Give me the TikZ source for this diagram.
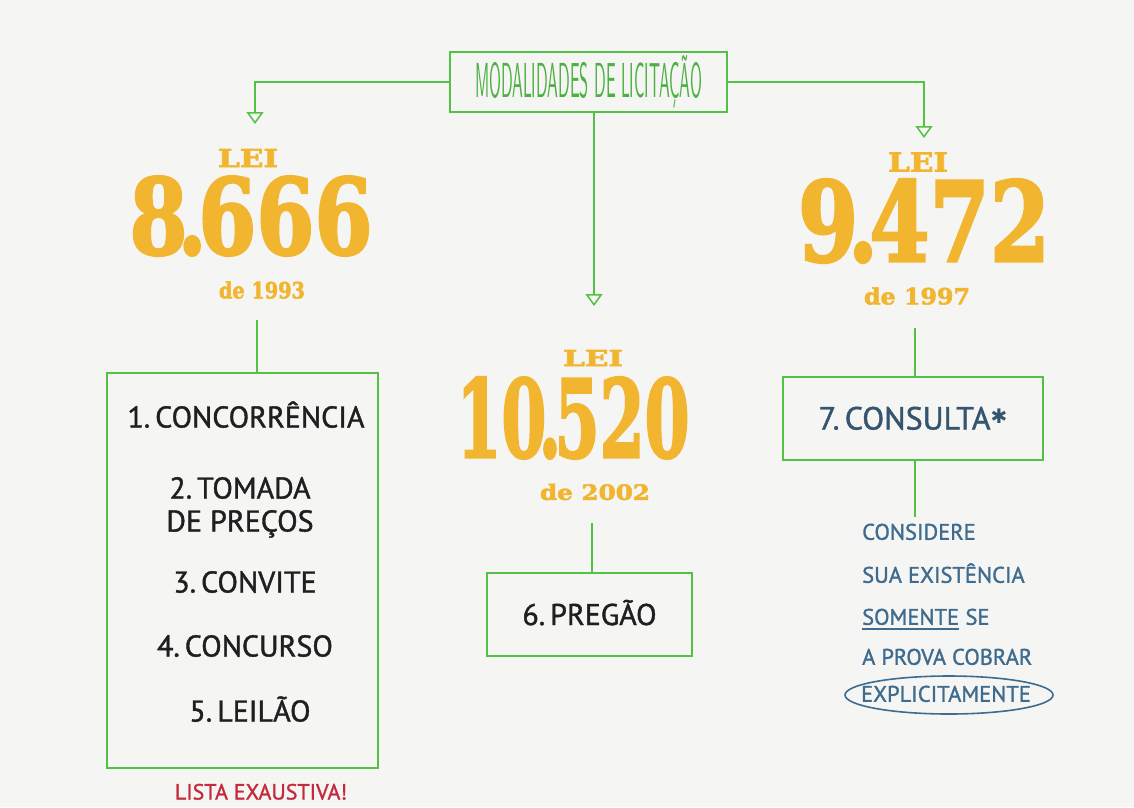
\documentclass[tikz,border=0pt]{standalone}
\usepackage{fontspec}
\setmainfont{PT Sans}
\newfontfamily\hand{PT Sans}[FakeBold=1.3]
\newfontfamily\slab{DejaVu Serif Bold}[FakeBold=2.5]
\newfontfamily\symb{DejaVu Sans}
\usetikzlibrary{arrows.meta,shapes.geometric}
\definecolor{bg}{HTML}{F5F5F4}
\definecolor{grn}{HTML}{55C046}
\definecolor{titlegrn}{HTML}{4DB043}
\definecolor{goldc}{HTML}{F2B530}
\definecolor{ink}{HTML}{1F1F1F}
\definecolor{blu}{HTML}{34546F}
\definecolor{notec}{HTML}{3E6B8E}
\definecolor{redt}{HTML}{C42A3C}
\newcommand\fitbox[3]{\resizebox{#1pt}{#2pt}{\slab #3}}
\newcommand\pt{\kern-0.12em.\kern-0.1em}
\begin{document}
\begin{tikzpicture}[x=1pt,y=-1pt,
  gbox/.style={draw=grn,line width=1.8pt,inner sep=0pt},
  link/.style={draw=grn,line width=1.8pt},
  arr/.style={link,-{Triangle[open,fill=bg,length=12pt,width=17pt,line width=1.5pt]}},
  item/.style={text=ink,font=\hand\fontsize{30}{36}\selectfont,inner sep=0pt,text height=21pt,text depth=0pt},
  numtext/.style={text=goldc,inner sep=0pt},
  notetext/.style={text=notec,font=\hand\fontsize{22.5}{26}\selectfont,inner sep=0pt,text height=15.5pt,text depth=0pt,anchor=west}
]
\fill[bg] (0,0) rectangle (1134,807);
\useasboundingbox (0,0) rectangle (1134,807);

% title
\node[gbox,minimum width=277pt,minimum height=60pt,text=titlegrn] (title) at (588.5,82)
  {\resizebox{227pt}{42pt}{\sffamily MODALIDADES DE LICITAÇÃO}};

\coordinate (tl) at (255,124);
\coordinate (tr) at (924,138);
\coordinate (tc) at (594,306);
\draw[arr] (title.west) -| (tl);
\draw[arr] (title.east) -| (tr);
\draw[arr] (title.south -| tc) -- (tc);

% left law
\node[numtext] (lei1) at (248,158) {\fitbox{60}{18}{LEI}};
\node[numtext] (num1) at (251,216) {\fitbox{243}{78}{8\pt666}};
\node[numtext] (yr1) at (262,290) {\fitbox{86}{17}{de 1993}};

\node[gbox,minimum width=271pt,minimum height=395pt] (box1) at (242.5,570.5) {};
\coordinate (c1) at (257,320);
\draw[link] (c1) -- (c1 |- box1.north);

\node[item] (i1) at (246,417) {1.\,CONCORRÊNCIA};
\node[item] (i2) at (240,488) {2.\,TOMADA};
\node[item] (i2b) at (240,521) {DE PREÇOS};
\node[item] (i3) at (245,582) {3.\,CONVITE};
\node[item] (i4) at (245,646) {4.\,CONCURSO};
\node[item] (i5) at (250,711) {5.\,LEILÃO};
\node[item,text=redt,font=\hand\fontsize{22}{26}\selectfont,text height=15pt] (lista) at (261,792) {LISTA EXAUSTIVA!};

% centre law
\node[numtext] (lei2) at (593,358) {\fitbox{60}{16}{LEI}};
\node[numtext] (num2) at (573,418) {\fitbox{233}{80}{10\pt520}};
\node[numtext] (yr2) at (595,492) {\fitbox{110}{16}{de 2002}};

\node[gbox,minimum width=205pt,minimum height=83pt,item] (box2) at (589.5,614.5) {6.\,PREGÃO};
\coordinate (c2) at (592,523);
\draw[link] (c2) -- (c2 |- box2.north);

% right law
\node[numtext] (lei3) at (918,162) {\fitbox{60}{19}{LEI}};
\node[numtext] (num3) at (924,221) {\fitbox{252}{82}{9\pt472}};
\node[numtext] (yr3) at (917,296) {\fitbox{106}{17}{de 1997}};

\node[gbox,minimum width=260pt,minimum height=83pt,item,text=blu,font=\hand\fontsize{32}{38}\selectfont,text height=22pt] (box3) at (913,418.5) {7.\,CONSULTA\raisebox{6pt}{\symb\fontsize{20}{20}\selectfont ✱}};
\coordinate (c3) at (915,328);
\draw[link] (c3) -- (c3 |- box3.north);
\coordinate (c4) at (915,517);
\draw[link] (box3.south -| c4) -- (c4);

% note
\node[notetext] (n1) at (862,532) {CONSIDERE};
\node[notetext] (n2) at (862,575) {SUA EXISTÊNCIA};
\node[notetext] (n3a) at (862,617) {SOMENTE};
\node[notetext] (n3b) at ([xshift=6pt]n3a.east) {SE};
\draw[notec,line width=1.3pt] ([yshift=-4pt]n3a.south west) -- ([yshift=-4pt]n3a.south east);
\node[notetext] (n4) at (862,657) {A PROVA COBRAR};
\node[notetext,anchor=center] (n5) at (946,694) {EXPLICITAMENTE};
\draw[notec,line width=1.6pt] (949,695) ellipse [x radius=104, y radius=19];
\end{tikzpicture}
\end{document}
